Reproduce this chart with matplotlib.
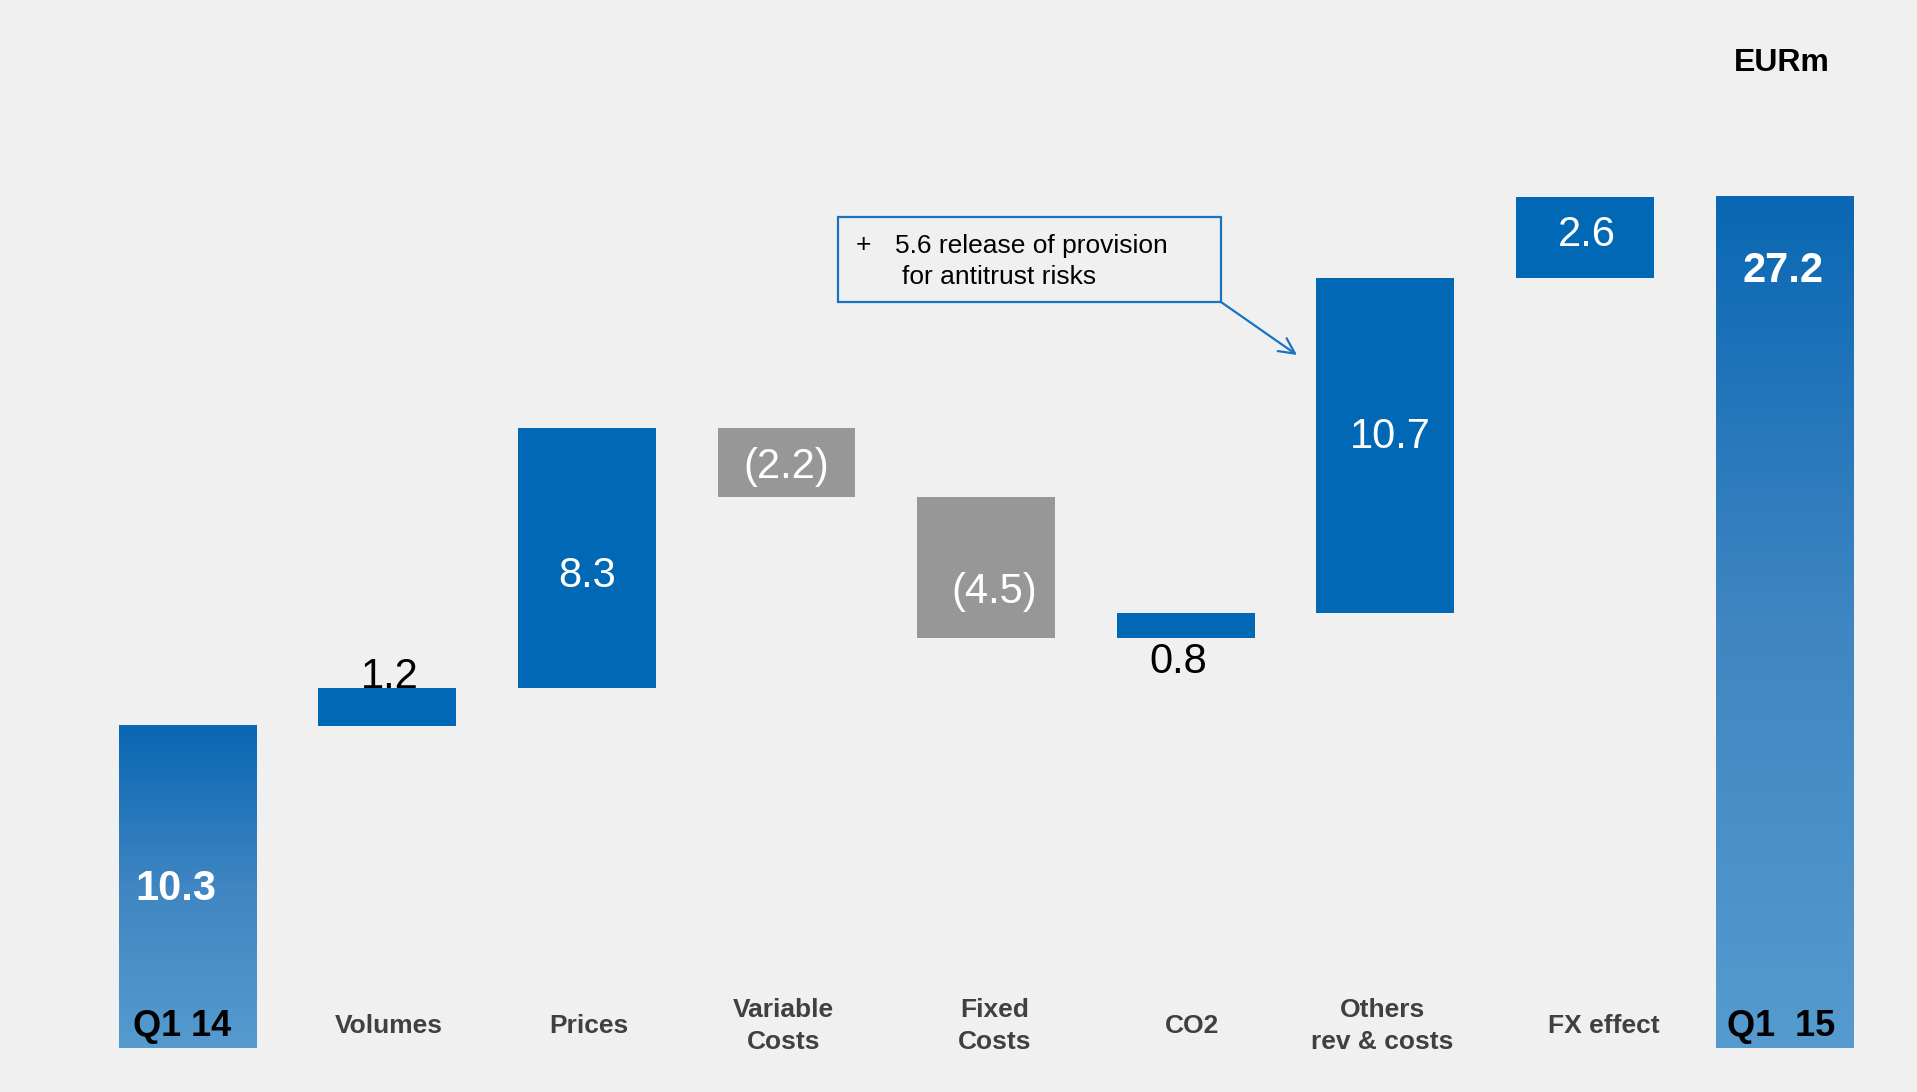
import numpy as np
import matplotlib
matplotlib.use("Agg")
import matplotlib.pyplot as plt
from matplotlib.colors import LinearSegmentedColormap
from matplotlib.patches import Rectangle

plt.rcParams["font.family"] = ["Liberation Sans", "DejaVu Sans"]

# ---- data ----
categories = ["Q1 14", "Volumes", "Prices", "Variable\nCosts", "Fixed\nCosts",
              "CO2", "Others\nrev & costs", "FX effect", "Q1  15"]
values = [10.3, 1.2, 8.3, -2.2, -4.5, 0.8, 10.7, 2.6, 27.2]
value_labels = ["10.3", "1.2", "8.3", "(2.2)", "(4.5)", "0.8", "10.7", "2.6", "27.2"]
is_total = [True, False, False, False, False, False, False, False, True]
unit = "EURm"
note_lines = ["5.6 release of provision", "for antitrust risks"]

BG = "#f0f0f0"
BLUE = "#0068b4"
GREY = "#979797"
CAT_COLOR = "#404040"
W, H = 1917, 1092

fig = plt.figure(figsize=(W / 100, H / 100), dpi=100, facecolor=BG)
ax = fig.add_axes([0, 0, 1, 1])
ax.set_facecolor(BG)
ax.axis("off")

grad_cmap = LinearSegmentedColormap.from_list("g", ["#559bcf", "#3f86c2", "#0a67b3"])
grad = np.linspace(0, 1, 256)[:, None]

x = np.arange(len(values))
width = 0.69
bottoms, tops = [], []
running = 0.0
for v, tot in zip(values, is_total):
    if tot:
        bottoms.append(0.0)
        tops.append(v)
        running = v
    else:
        lo, hi = sorted([running, running + v])
        bottoms.append(lo)
        tops.append(hi)
        running += v

for i, (b, t) in enumerate(zip(bottoms, tops)):
    if is_total[i]:
        ax.imshow(grad, extent=[x[i] - width / 2, x[i] + width / 2, b, t],
                  origin="lower", aspect="auto", cmap=grad_cmap, zorder=2)
    else:
        color = BLUE if values[i] > 0 else GREY
        ax.bar(x[i], t - b, bottom=b, width=width, color=color,
               linewidth=0, zorder=2)

ax.set_xlim(-0.94, 8.664)
ax.set_ylim(-1.406, 33.48)

# value labels: (anchor, dx px, dy px)
label_pos = [("mid", -12, 2), ("top", 3, 16), ("mid", 0, -13), ("mid", 0, 0),
             ("mid", 8, -20), ("bottom", -7, -20), ("mid", 5, 13), ("mid", 2, 7),
             ("top", -1, -70)]
for i, (anchor, dx, dy) in enumerate(label_pos):
    b, t = bottoms[i], tops[i]
    y = {"mid": (b + t) / 2, "top": t, "bottom": b}[anchor]
    dark = value_labels[i] in ("1.2", "0.8")
    ax.annotate(value_labels[i], (x[i], y), xytext=(dx * 0.72, dy * 0.72),
                textcoords="offset points", ha="center", va="center_baseline",
                fontsize=30, color="black" if dark else "white",
                fontweight="bold" if is_total[i] else "normal", zorder=3)

# category labels, all on one row near the bottom
cat_dx = [-6, 2, 2, -3, 9, 6, -3, 19, -3]
for i, lab in enumerate(categories):
    ax.annotate(lab, (x[i], 1 - 1026 / H), xytext=(cat_dx[i] * 0.72, 0),
                textcoords="offset points",
                xycoords=("data", "axes fraction"),
                ha="center", va="center", linespacing=1.42,
                fontsize=26 if is_total[i] else 19, fontweight="bold",
                color="black" if is_total[i] else CAT_COLOR, zorder=3)

fig.text(1782 / W, 1 - 63 / H, unit, ha="center", va="center",
         fontsize=23, fontweight="bold", color="black")

# annotation box with arrow
box_l, box_t, box_r, box_b = 837.5, 217.5, 1221, 302
fig.patches.append(Rectangle((box_l / W, 1 - box_b / H), (box_r - box_l) / W,
                             (box_b - box_t) / H, transform=fig.transFigure,
                             facecolor="none", edgecolor="#1a73bf", linewidth=1.6))
fig.text(863 / W, 1 - 243 / H, "+", ha="center", va="center_baseline", fontsize=19)
fig.text(895 / W, 1 - 243 / H, note_lines[0], ha="left", va="center_baseline", fontsize=19)
fig.text(902 / W, 1 - 274 / H, note_lines[1], ha="left", va="center_baseline", fontsize=19)
ax.annotate("", xy=(1297 / W, 1 - 355 / H), xytext=(box_r / W, 1 - box_b / H),
            xycoords="figure fraction", textcoords="figure fraction",
            arrowprops=dict(arrowstyle="->", color="#1a73bf", lw=1.6,
                            shrinkA=0, shrinkB=0, mutation_scale=28))

fig.savefig("out.png", dpi=100, facecolor=BG)
